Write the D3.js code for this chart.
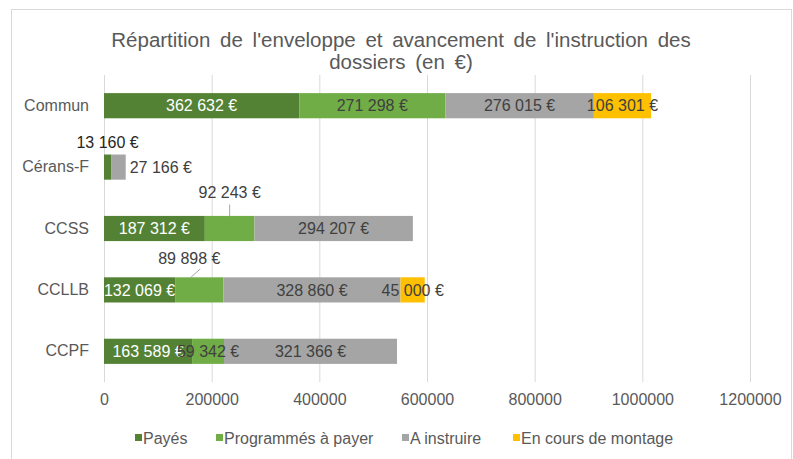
<!DOCTYPE html>
<html>
<head>
<meta charset="utf-8">
<script src="https://cdn.jsdelivr.net/npm/d3@7"></script>
<style>
  body { margin: 0; background: #fff; }
  text { font-family: "Liberation Sans", Arial, sans-serif; }
</style>
</head>
<body>
<div id="chart"></div>
<script>
// Data
const categories = ["Commun", "Cérans-F", "CCSS", "CCLLB", "CCPF"];
const seriesNames = ["Payés", "Programmés à payer", "A instruire", "En cours de montage"];
const payes = [362632, 13160, 187312, 132069, 163589];
const programmes = [271298, 0, 92243, 89898, 59342];
const aInstruire = [276015, 27166, 294207, 328860, 321366];
const enCours = [106301, 0, 0, 45000, 0];
const xTicks = [0, 200000, 400000, 600000, 800000, 1000000, 1200000];

const colors = ["#548235", "#70AD47", "#A5A5A5", "#FFC000"];
const labelColors = ["#ffffff", "#404040", "#404040", "#404040"];

const W = 793, H = 459;

const svg = d3.select("#chart").append("svg")
    .attr("width", W)
    .attr("height", H);

// chart frame
svg.append("rect")
    .attr("x", 11.5).attr("y", 9.5)
    .attr("width", 780).attr("height", 470)
    .attr("fill", "#fff")
    .attr("stroke", "#D9D9D9");

// Title
const title = svg.append("text")
    .attr("text-anchor", "middle")
    .attr("fill", "#595959")
    .style("font-size", "20.5px")
    .style("word-spacing", "4px");
title.append("tspan").attr("x", 401).attr("y", 47)
    .text("Répartition de l'enveloppe et avancement de l'instruction des");
title.append("tspan").attr("x", 401).attr("y", 69)
    .text("dossiers (en €)");

// Scales
const x = d3.scaleLinear().domain([0, 1200000]).range([104, 750]);
const y = d3.scaleBand().domain(categories).range([75, 382])
    .paddingInner(0.59).paddingOuter(0.295);

// Gridlines
svg.append("g")
    .selectAll("line")
    .data(xTicks)
    .join("line")
    .attr("x1", d => x(d) + 0.5).attr("x2", d => x(d) + 0.5)
    .attr("y1", 75).attr("y2", 382)
    .attr("stroke", "#D9D9D9");

// X axis labels
const xAxis = d3.axisBottom(x).tickValues(xTicks).tickSize(0).tickPadding(0)
    .tickFormat(d3.format("d"));
const gx = svg.append("g").attr("transform", "translate(0,394)").call(xAxis);
gx.select(".domain").remove();
gx.selectAll("text").attr("fill", "#595959").style("font-size", "16px");

// Y axis labels
const yAxis = d3.axisLeft(y).tickSize(0).tickPadding(0);
const gy = svg.append("g").attr("transform", "translate(89,0)").call(yAxis);
gy.select(".domain").remove();
gy.selectAll("text").attr("fill", "#595959").style("font-size", "16px");

// Stack
const rows = categories.map((c, i) => ({
    cat: c, s0: payes[i], s1: programmes[i], s2: aInstruire[i], s3: enCours[i]
}));
const stack = d3.stack().keys(["s0", "s1", "s2", "s3"]);
const layers = stack(rows);

const fmt = d3.formatLocale({ decimal: ",", thousands: "\u00a0", grouping: [3], currency: ["", "€"] }).format(",d");

// Special label placements
const special = {
    "Cérans-F|0": { dx: 0, dy: -25, color: "#262626" },
    "Cérans-F|2": { outside: true },
    "CCSS|1": { dx: 0, dy: -36, leader: [[0, -24], [0, -12]] },
    "CCLLB|1": { dx: -10, dy: -32, leader: [[1, -21], [-9, -12]] }
};

// Bars
const barsG = svg.append("g");
layers.forEach((layer, li) => {
    barsG.append("g").selectAll("rect")
        .data(layer.filter(d => d[1] > d[0]))
        .join("rect")
        .attr("x", d => x(d[0]))
        .attr("y", d => y(d.data.cat))
        .attr("width", d => x(d[1]) - x(d[0]))
        .attr("height", y.bandwidth())
        .attr("fill", colors[li]);
});

// Labels (on top of all bars)
const labelsG = svg.append("g");
layers.forEach((layer, li) => {
    layer.filter(d => d[1] > d[0]).forEach(d => {
        const sp = special[d.data.cat + "|" + li] || {};
        let cx = (x(d[0]) + x(d[1])) / 2;
        const cy = y(d.data.cat) + y.bandwidth() / 2;
        let anchor = "middle";
        if (sp.outside) { cx = x(d[1]) + 4; anchor = "start"; }
        if (sp.leader) {
            labelsG.append("line")
                .attr("x1", cx + sp.leader[0][0]).attr("y1", cy + sp.leader[0][1])
                .attr("x2", cx + sp.leader[1][0]).attr("y2", cy + sp.leader[1][1])
                .attr("stroke", "#A6A6A6");
        }
        let col = labelColors[li];
        if (sp.outside || sp.dy) col = sp.color || "#404040";
        labelsG.append("text")
            .attr("x", cx + (sp.dx || 0)).attr("y", cy + (sp.dy || 0))
            .attr("dy", "0.35em")
            .attr("text-anchor", anchor)
            .attr("fill", col)
            .style("font-size", "16px")
            .text(fmt(d.data[layer.key]) + "\u00a0€");
    });
});

// Legend
const legendX = [135, 216, 402, 513];
const legend = svg.append("g");
seriesNames.forEach((name, i) => {
    legend.append("rect")
        .attr("x", legendX[i]).attr("y", 434)
        .attr("width", 7).attr("height", 7)
        .attr("fill", colors[i]);
    legend.append("text")
        .attr("x", legendX[i] + 8).attr("y", 438)
        .attr("dy", "0.35em")
        .attr("fill", "#595959")
        .style("font-size", "16px")
        .text(name);
});
</script>
</body>
</html>
